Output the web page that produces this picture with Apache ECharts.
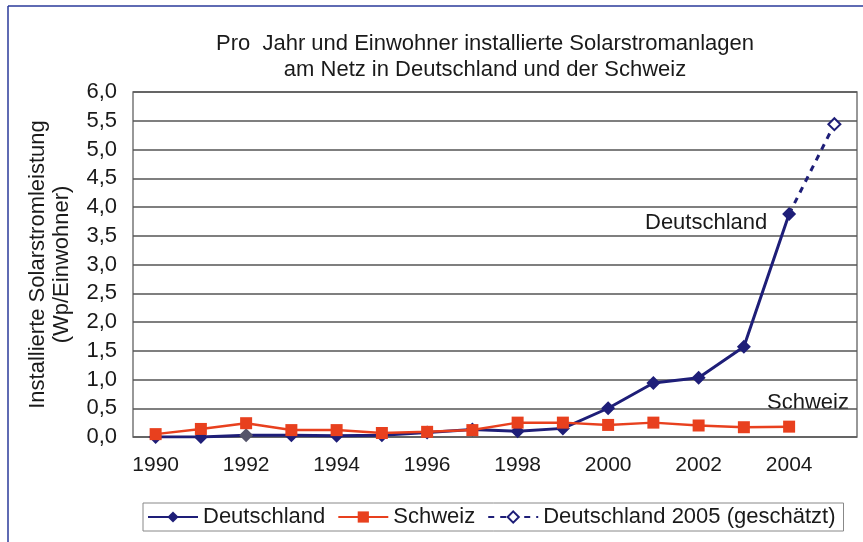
<!DOCTYPE html>
<html>
<head>
<meta charset="utf-8">
<script src="https://cdn.jsdelivr.net/npm/echarts@6/dist/echarts.min.js"></script>
<style>
html,body{margin:0;padding:0;background:#fff;}
#c{width:863px;height:542px;}
</style>
</head>
<body>
<div id="c"></div>
<script>
const years = ['1990','1991','1992','1993','1994','1995','1996','1997','1998','1999','2000','2001','2002','2003','2004','2005'];
const deutschland = [0.0, 0.0, 0.03, 0.03, 0.02, 0.03, 0.08, 0.13, 0.10, 0.15, 0.50, 0.94, 1.03, 1.57, 3.88, null];
const schweiz = [0.05, 0.14, 0.24, 0.12, 0.12, 0.07, 0.09, 0.12, 0.25, 0.25, 0.21, 0.25, 0.20, 0.17, 0.18, null];
const deutschland2005 = [null, null, null, null, null, null, null, null, null, null, null, null, null, null, 3.88, 5.44];
const yTicks = ['0,0','0,5','1,0','1,5','2,0','2,5','3,0','3,5','4,0','4,5','5,0','5,5','6,0'];

const navy = '#1e1e78';
const red = '#e8401e';
const font = '"Liberation Sans", Arial, sans-serif';

const chart = echarts.init(document.getElementById('c'), null, {renderer: 'canvas'});
chart.setOption({
  animation: false,
  backgroundColor: '#fff',
  textStyle: {fontFamily: font},
  title: {
    text: 'Pro  Jahr und Einwohner installierte Solarstromanlagen\nam Netz in Deutschland und der Schweiz',
    left: 480, top: 26, textAlign: 'center',
    textStyle: {fontFamily: font, fontSize: 22, fontWeight: 'normal', color: '#1a1a1a', lineHeight: 26}
  },
  grid: {left: 133, right: 6, top: 92, bottom: 105, show: true, borderColor: '#777', borderWidth: 1.5, backgroundColor: '#fff', outerBoundsMode: 'none', containLabel: false},
  legend: {
    bottom: 11, left: 143,
    padding: [3, 8, 3, 4],
    borderColor: '#888', borderWidth: 1,
    itemWidth: 50, itemHeight: 14, itemGap: 12,
    textStyle: {fontFamily: font, fontSize: 22, color: '#1a1a1a'},
    data: ['Deutschland', 'Schweiz', 'Deutschland 2005 (geschätzt)']
  },
  xAxis: {
    type: 'category',
    data: years,
    boundaryGap: true,
    axisLine: {show: false},
    axisTick: {show: false},
    axisLabel: {
      interval: 1, margin: 18, fontSize: 21, color: '#1a1a1a', fontFamily: font
    }
  },
  yAxis: {
    type: 'value',
    min: 0, max: 6, interval: 0.5,
    name: 'Installierte Solarstromleistung\n(Wp/Einwohner)',
    nameLocation: 'middle', nameGap: 59, nameRotate: 90,
    nameTextStyle: {fontFamily: font, fontSize: 22, color: '#1a1a1a', lineHeight: 24},
    axisLine: {show: false},
    axisTick: {show: false},
    axisLabel: {
      margin: 16, fontSize: 22, color: '#1a1a1a', fontFamily: font,
      formatter: v => yTicks[Math.round(v * 2)]
    },
    splitLine: {show: true, lineStyle: {color: '#555', width: 1.5}}
  },
  series: [
    {
      name: 'Deutschland', type: 'line',
      data: deutschland.map((v, i) => i === 2 ? {value: v, itemStyle: {color: '#55556a'}} : v),
      symbol: 'diamond', symbolSize: 14,
      lineStyle: {color: navy, width: 3},
      itemStyle: {color: navy},
      z: 3
    },
    {
      name: 'Schweiz', type: 'line',
      data: schweiz,
      symbol: 'rect', symbolSize: 12,
      lineStyle: {color: red, width: 2.5},
      itemStyle: {color: red},
      z: 4
    },
    {
      name: 'Deutschland 2005 (geschätzt)', type: 'line',
      data: deutschland2005.map((v, i) => i === 14 ? {value: v, symbol: 'none'} : v),
      symbol: 'emptyDiamond', symbolSize: 12,
      lineStyle: {color: navy, width: 3, type: [6, 6]},
      itemStyle: {color: navy, borderWidth: 1.5},
      z: 2
    }
  ],
  graphic: [
    {type: 'text', left: 645, top: 212, style: {text: 'Deutschland', fontFamily: font, fontSize: 22, fill: '#1a1a1a'}},
    {type: 'text', left: 767, top: 392, style: {text: 'Schweiz', fontFamily: font, fontSize: 22, fill: '#1a1a1a'}},
    {type: 'line', shape: {x1: 8, y1: 6, x2: 8, y2: 542}, style: {stroke: '#2a3a9a', lineWidth: 1.5}},
    {type: 'line', shape: {x1: 8, y1: 6, x2: 863, y2: 6}, style: {stroke: '#2a3a9a', lineWidth: 1.5}}
  ]
});
</script>
</body>
</html>
